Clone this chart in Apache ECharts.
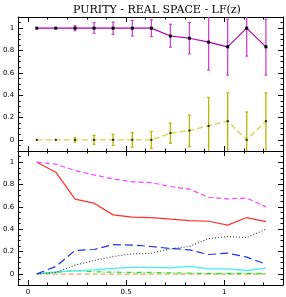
<!DOCTYPE html>
<html><head><meta charset="utf-8">
<script src="https://cdn.jsdelivr.net/npm/echarts@6/dist/echarts.min.js"></script>
<style>html,body{margin:0;padding:0;background:#fff}#c{width:286px;height:297px}</style>
</head><body><div id="c"></div>
<script>
// ---- data ----
const zBins = [0.045,0.142,0.240,0.337,0.434,0.532,0.629,0.726,0.823,0.921,1.018,1.115,1.213];
const purity   = [1,1,1,1,1,1,1,0.93,0.91,0.875,0.833,1,0.833];
const purityLo = [1,1,0.977,0.955,0.945,0.93,0.925,0.83,0.77,0.625,0.58,0.75,0.58];
const purityHi = [1,1,1.023,1.05,1.055,1.07,1.075,1.035,1.05,1.125,1.08,1.25,1.08];
const contam   = [0,0,0,0,0,0,0,0.06,0.083,0.125,0.167,0,0.167];
const contamLo = [0,0,-0.02,-0.04,-0.05,-0.065,-0.078,-0.03,-0.06,-0.13,-0.12,-0.25,-0.12];
const contamHi = [0,0,0.02,0.04,0.05,0.065,0.075,0.15,0.22,0.38,0.42,0.25,0.42];
const magentaDash = [1.0,0.982,0.925,0.886,0.85,0.824,0.817,0.782,0.758,0.686,0.671,0.678,0.6];
const redSolid    = [1.0,0.91,0.669,0.633,0.528,0.507,0.504,0.49,0.477,0.471,0.436,0.504,0.468];
const blueDash    = [0,0.066,0.209,0.218,0.262,0.257,0.245,0.227,0.215,0.173,0.185,0.15,0.087];
const blackDot    = [0,0.012,0.078,0.119,0.155,0.179,0.185,0.224,0.245,0.316,0.334,0.325,0.4];
const cyanLine    = [0,0.017,0.027,0.036,0.048,0.057,0.057,0.054,0.066,0.045,0.045,0.03,0.051];
const greenLine   = [0,0.012,0.03,0.018,0.015,0.012,0.012,0.009,0.006,0.003,0.003,0.003,0.003];
const orangeLine  = [0,-0.002,-0.002,-0.002,-0.002,-0.002,-0.002,-0.002,-0.002,-0.002,-0.002,-0.002,-0.002];
const xMajor = [0,0.5,1];
const xMinor = [0,0.1,0.2,0.3,0.4,0.5,0.6,0.7,0.8,0.9,1.0,1.1,1.2];
const yMajor = [0,0.2,0.4,0.6,0.8,1];
const yMinor = [-0.05,0,0.05,0.1,0.15,0.2,0.25,0.3,0.35,0.4,0.45,0.5,0.55,0.6,0.65,0.7,0.75,0.8,0.85,0.9,0.95,1,1.05];

const pair = (ys) => zBins.map((x,i)=>[x, ys[i]]);
const XMIN=-0.05, XMAX=1.3, YMIN=-0.1, YMAX=1.1;
const FONT = 'DejaVu Sans';

const xAxes=[], yAxes=[];
[0,1].forEach(g=>{
  ['bottom','top'].forEach(pos=>{
    [true,false].forEach(major=>{
      xAxes.push({
        type:'value', gridIndex:g, position:pos, min:XMIN, max:XMAX,
        axisLine:{show:major, onZero:false, lineStyle:{color:'#000',width:1}},
        splitLine:{show:false},
        axisTick:{show:true, inside:true, length: major?5:2.5, customValues: major?xMajor:xMinor, lineStyle:{color:'#000',width:1}},
        axisLabel:{show: major && g===1 && pos==='bottom', customValues:xMajor, fontFamily:FONT, fontSize:7, color:'#000', margin:4,
          formatter:v=>String(v)}
      });
    });
  });
  ['left','right'].forEach(pos=>{
    [true,false].forEach(major=>{
      yAxes.push({
        type:'value', gridIndex:g, position:pos, min:YMIN, max:YMAX,
        axisLine:{show:major, onZero:false, lineStyle:{color:'#000',width:1}},
        splitLine:{show:false},
        axisTick:{show:true, inside:true, length: major?5:2.5, customValues: major?yMajor:yMinor, lineStyle:{color:'#000',width:1}},
        axisLabel:{show: major && pos==='left', customValues:yMajor, fontFamily:FONT, fontSize:7, color:'#000', margin:4,
          formatter:v=>String(v)}
      });
    });
  });
});
const xi = g=>4*g, yi = g=>4*g;

function errSeries(vals, lo, hi, color){
  return {
    type:'custom', xAxisIndex:xi(0), yAxisIndex:yi(0), clip:true, z:3,
    data: zBins.map((x,i)=>[x, lo[i], hi[i]]),
    renderItem:(params, api)=>{
      const x=api.value(0), l=api.value(1), h=api.value(2);
      if (h-l <= 0) return null;
      const lc = Math.max(l, YMIN), hc = Math.min(h, YMAX);
      const p1=api.coord([x,lc]), p2=api.coord([x,hc]);
      const children=[{type:'line', shape:{x1:p1[0],y1:p1[1],x2:p2[0],y2:p2[1]}, style:{stroke:color,lineWidth:1.3}}];
      const cw=1.5;
      if (l>=YMIN) children.push({type:'line', shape:{x1:p1[0]-cw,y1:p1[1],x2:p1[0]+cw,y2:p1[1]}, style:{stroke:color,lineWidth:1.2}});
      if (h<=YMAX) children.push({type:'line', shape:{x1:p2[0]-cw,y1:p2[1],x2:p2[0]+cw,y2:p2[1]}, style:{stroke:color,lineWidth:1.2}});
      return {type:'group', children};
    }
  };
}

function lineSeries(g, ys, color, type, width, extra){
  return Object.assign({
    type:'line', xAxisIndex:xi(g), yAxisIndex:yi(g), data:pair(ys), symbol:'none',
    lineStyle:{color, width, type}, clip:true, animation:false, silent:true
  }, extra||{});
}

const option = {
  animation:false,
  title:{text:'PURITY - REAL SPACE - LF(z)', left:152, textAlign:'center', top:0,
    textStyle:{fontFamily:'DejaVu Serif', fontSize:11, fontWeight:'normal', color:'#000'}},
  grid:[
    {left:18, right:3, top:17, height:134, containLabel:false},
    {left:18, right:3, top:151, height:134, containLabel:false}
  ],
  xAxis:xAxes, yAxis:yAxes,
  series:[
    errSeries(purity, purityLo, purityHi, '#cc44cc'),
    errSeries(contam, contamLo, contamHi, '#b8b800'),
    lineSeries(0, purity, '#b000b0', 'solid', 1.2, {symbol:'rect', symbolSize:3, itemStyle:{color:'#000'}, z:4}),
    lineSeries(0, contam, '#d4d440', [6,3], 1.3, {symbol:'rect', symbolSize:2, itemStyle:{color:'#222'}, z:4}),
    lineSeries(1, orangeLine, '#eea860', [5,3], 1.3),
    lineSeries(1, greenLine, '#33dd33', [5,2,1,2], 1.3),
    lineSeries(1, cyanLine, '#44f0f0', 'solid', 1.3),
    lineSeries(1, blackDot, '#333333', [1,2], 1.1),
    lineSeries(1, blueDash, '#2030f0', [8,4], 1.2),
    lineSeries(1, redSolid, '#ff3030', 'solid', 1.2),
    lineSeries(1, magentaDash, '#ff44ff', [5,3], 1.2)
  ]
};
const chart = echarts.init(document.getElementById('c'), null, {renderer:'canvas'});
chart.setOption(option);
</script></body></html>
